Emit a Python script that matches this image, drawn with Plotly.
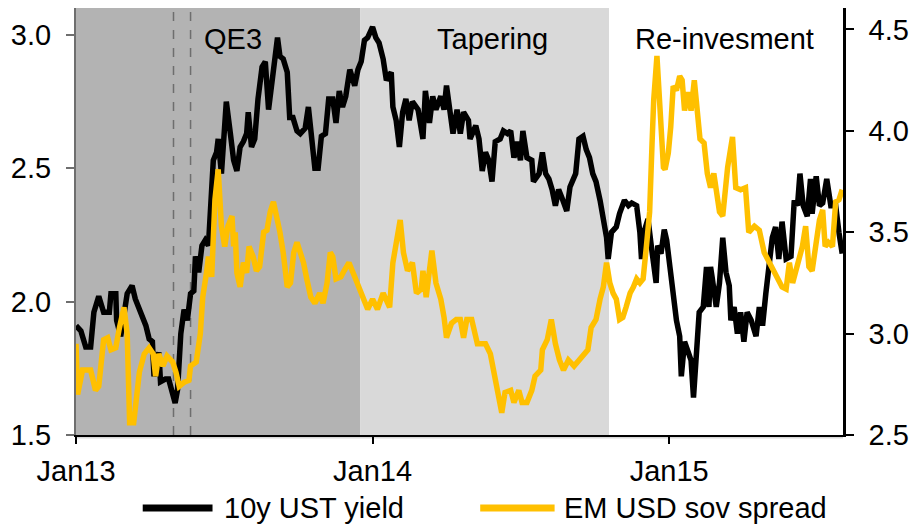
import pandas as pd
import plotly.graph_objects as go

# ---------------- data ----------------
base_date = pd.Timestamp("2013-01-01")

# 10y UST yield (left axis, %), observation day = days since 2013-01-01
ust_days = [0, 6, 12, 18, 22, 28, 34, 41, 43, 49, 50, 55, 63, 69, 73, 80, 86, 90, 94, 96,
            102, 104, 110, 114, 119, 122, 125, 129, 133, 137, 141, 145, 147, 151, 155, 159, 163, 169, 173, 175,
            179, 185, 190, 194, 198, 202, 206, 210, 212, 216, 220, 224, 229, 233, 237, 241, 245, 248, 251, 255,
            260, 263, 267, 272, 276, 282, 286, 290, 294, 298, 302, 307, 311, 316, 320, 324, 328, 332, 337, 343,
            347, 351, 355, 359, 365, 369, 373, 378, 382, 388, 390, 394, 398, 402, 406, 410, 414, 421, 427, 430,
            435, 439, 443, 449, 453, 456, 460, 464, 469, 473, 477, 483, 485, 492, 496, 500, 504, 508, 512, 516,
            522, 526, 531, 535, 539, 543, 547, 550, 555, 561, 563, 570, 574, 578, 582, 586, 590, 594, 598, 604,
            608, 615, 619, 624, 628, 632, 636, 640, 645, 649, 653, 655, 659, 665, 669, 675, 680, 684, 690, 694,
            696, 700, 704, 708, 714, 716, 720, 724, 727, 731, 735, 739, 743, 745, 749, 753, 757, 760, 764, 767,
            772, 776, 779, 781, 783, 788, 792, 796, 800, 804, 806, 810, 814, 818, 822, 826, 831, 837, 841, 845,
            849, 853, 857, 861, 865, 869, 874, 880, 884, 888, 891, 895, 900, 904, 906, 911, 915, 919, 924, 929,
            935, 939, 943]
ust_yield = [1.91, 1.89, 1.83, 1.83, 1.96, 2.02, 1.96, 1.96, 2.03, 2.03, 1.93, 1.87, 2.03, 2.06, 2.01, 1.96, 1.91, 1.86, 1.85, 1.72,
             1.81, 1.70, 1.71, 1.71, 1.66, 1.62, 1.67, 1.88, 1.97, 1.93, 2.03, 2.04, 2.17, 2.11, 2.21, 2.23, 2.21, 2.53, 2.56, 2.61,
             2.48, 2.75, 2.63, 2.53, 2.49, 2.58, 2.60, 2.63, 2.71, 2.58, 2.61, 2.76, 2.88, 2.90, 2.72, 2.81, 2.92, 2.99, 2.92, 2.91,
             2.86, 2.69, 2.69, 2.64, 2.63, 2.65, 2.73, 2.60, 2.50, 2.50, 2.62, 2.63, 2.76, 2.76, 2.67, 2.79, 2.73, 2.77, 2.87, 2.81,
             2.87, 2.90, 2.98, 2.99, 3.03, 2.99, 2.97, 2.91, 2.83, 2.86, 2.73, 2.68, 2.58, 2.71, 2.76, 2.68, 2.75, 2.72, 2.61, 2.79,
             2.67, 2.77, 2.72, 2.77, 2.72, 2.81, 2.72, 2.63, 2.72, 2.63, 2.71, 2.68, 2.61, 2.66, 2.61, 2.49, 2.56, 2.53, 2.45, 2.60,
             2.61, 2.64, 2.63, 2.64, 2.54, 2.60, 2.53, 2.64, 2.54, 2.53, 2.45, 2.48, 2.56, 2.48, 2.46, 2.42, 2.36, 2.42, 2.39, 2.34,
             2.43, 2.48, 2.61, 2.62, 2.57, 2.54, 2.48, 2.45, 2.38, 2.31, 2.24, 2.16, 2.26, 2.28, 2.33, 2.38, 2.36, 2.37, 2.36, 2.26,
             2.16, 2.27, 2.31, 2.21, 2.07, 2.21, 2.18, 2.27, 2.23, 2.13, 2.01, 1.93, 1.87, 1.72, 1.85, 1.81, 1.78, 1.64, 1.82, 1.96,
             1.98, 2.13, 1.98, 2.13, 2.09, 1.98, 2.07, 2.24, 2.11, 2.06, 1.93, 1.98, 1.88, 1.96, 1.85, 1.96, 1.93, 1.87, 1.98, 1.91,
             2.03, 2.13, 2.24, 2.28, 2.16, 2.30, 2.16, 2.17, 2.38, 2.36, 2.48, 2.36, 2.32, 2.46, 2.33, 2.47, 2.36, 2.37, 2.46, 2.36,
             2.36, 2.26, 2.18]

# EM USD sovereign spread (right axis, %)
em_days = [0, 2, 8, 18, 24, 28, 34, 39, 43, 49, 53, 59, 63, 66, 71, 78, 84, 90, 95, 98,
           102, 107, 112, 119, 123, 127, 133, 139, 141, 148, 153, 156, 161, 163, 167, 171, 175, 179, 183, 187,
           192, 194, 196, 198, 202, 206, 210, 213, 218, 222, 226, 231, 235, 239, 243, 247, 251, 255, 260, 264,
           268, 272, 276, 280, 284, 289, 294, 300, 304, 309, 313, 316, 320, 326, 330, 336, 343, 349, 353, 359,
           365, 371, 378, 386, 390, 394, 399, 403, 408, 414, 419, 425, 427, 431, 436, 438, 443, 449, 453, 456,
           462, 468, 473, 477, 481, 487, 494, 504, 510, 514, 520, 524, 528, 535, 539, 545, 549, 555, 561, 565,
           572, 574, 580, 585, 590, 595, 600, 606, 613, 619, 624, 630, 634, 640, 645, 649, 653, 657, 661, 665,
           669, 673, 677, 682, 686, 690, 694, 698, 702, 706, 709, 711, 715, 719, 723, 725, 729, 732, 735, 739,
           743, 746, 749, 753, 757, 761, 764, 768, 773, 777, 781, 785, 792, 796, 802, 808, 812, 818, 824, 828,
           835, 841, 847, 853, 857, 863, 869, 874, 878, 882, 888, 894, 898, 902, 906, 911, 915, 919, 922, 926,
           931, 935, 939, 943]
em_spread = [2.95, 2.70, 2.82, 2.82, 2.72, 2.74, 2.97, 2.98, 2.92, 2.93, 3.02, 3.13, 3.00, 2.56, 2.56, 2.81, 2.90, 2.93, 2.90, 2.79,
             2.90, 2.84, 2.89, 2.86, 2.81, 2.74, 2.76, 2.77, 2.84, 2.86, 3.00, 3.18, 3.31, 3.38, 3.28, 3.66, 3.81, 3.53, 3.43, 3.53,
             3.58, 3.43, 3.50, 3.30, 3.23, 3.35, 3.30, 3.43, 3.38, 3.31, 3.33, 3.50, 3.51, 3.60, 3.65, 3.58, 3.50, 3.40, 3.23, 3.25,
             3.40, 3.45, 3.40, 3.35, 3.27, 3.18, 3.15, 3.20, 3.15, 3.25, 3.40, 3.38, 3.27, 3.28, 3.31, 3.35, 3.28, 3.22, 3.17, 3.12,
             3.17, 3.12, 3.20, 3.13, 3.35, 3.46, 3.56, 3.40, 3.31, 3.35, 3.20, 3.22, 3.31, 3.18, 3.33, 3.41, 3.25, 3.17, 3.08, 2.98,
             3.05, 3.07, 3.07, 2.98, 3.07, 3.07, 2.95, 2.95, 2.90, 2.82, 2.72, 2.61, 2.71, 2.72, 2.66, 2.72, 2.66, 2.66, 2.72, 2.79,
             2.82, 2.92, 2.97, 3.07, 2.95, 2.87, 2.82, 2.87, 2.84, 2.87, 2.90, 2.92, 3.03, 3.07, 3.17, 3.23, 3.35, 3.25, 3.20, 3.17,
             3.07, 3.08, 3.13, 3.20, 3.23, 3.27, 3.25, 3.27, 3.43, 3.60, 3.94, 4.15, 4.37, 4.07, 3.82, 3.81, 3.89, 4.02, 4.22, 4.20,
             4.27, 4.25, 4.10, 4.19, 4.10, 4.25, 4.15, 3.96, 3.94, 3.79, 3.72, 3.79, 3.60, 3.58, 3.82, 3.97, 3.72, 3.71, 3.72, 3.50,
             3.53, 3.51, 3.40, 3.35, 3.33, 3.28, 3.23, 3.22, 3.35, 3.25, 3.35, 3.43, 3.53, 3.33, 3.31, 3.46, 3.56, 3.61, 3.43, 3.45,
             3.43, 3.65, 3.66, 3.71]

series_names = ["10y UST yield", "EM USD sov spread"]
x_tick_dates = ["2013-01-01", "2014-01-01", "2015-01-01"]
x_tick_labels = ["Jan13", "Jan14", "Jan15"]
left_ticks = [1.5, 2.0, 2.5, 3.0]
right_ticks = [2.5, 3.0, 3.5, 4.0, 4.5]

# regime periods
qe3_end = "2013-12-17"
taper_end = "2014-10-19"
event_dates = ["2013-05-01", "2013-05-22"]
period_labels = ["QE3", "Tapering", "Re-invesment"]

# ---------------- figure ----------------
ust_dates = base_date + pd.to_timedelta(ust_days, unit="D")
em_dates = base_date + pd.to_timedelta(em_days, unit="D")

FONT = "Liberation Sans, Arial, sans-serif"
FS = 29
BLACK = "#000000"
GOLD = "#FFC000"

fig = go.Figure()
fig.add_trace(go.Scatter(x=ust_dates, y=ust_yield, name=series_names[0], mode="lines",
                         line=dict(color=BLACK, width=5.5), yaxis="y"))
fig.add_trace(go.Scatter(x=em_dates, y=em_spread, name=series_names[1], mode="lines",
                         line=dict(color=GOLD, width=5.5), yaxis="y2"))

shapes = [
    dict(type="rect", xref="x", yref="paper", x0="2013-01-01", x1=qe3_end, y0=0, y1=1,
         fillcolor="#b3b3b3", line=dict(width=0), layer="below"),
    dict(type="rect", xref="x", yref="paper", x0=qe3_end, x1=taper_end, y0=0, y1=1,
         fillcolor="#d9d9d9", line=dict(width=0), layer="below"),
    dict(type="rect", xref="paper", yref="paper", x0=0, x1=1, y0=-0.008, y1=0,
         fillcolor="#d9d9d9", line=dict(width=0), layer="below"),
]
for d in event_dates:
    shapes.append(dict(type="line", xref="x", yref="paper", x0=d, x1=d, y0=0, y1=1,
                       line=dict(color="#6e6e6e", width=1.5, dash="dash"), layer="below"))

# custom legend (long line samples as in the reference)
leg_y = -0.171
shapes.append(dict(type="line", xref="paper", yref="paper", x0=0.087, x1=0.178, y0=leg_y, y1=leg_y,
                   line=dict(color=BLACK, width=7)))
shapes.append(dict(type="line", xref="paper", yref="paper", x0=0.527, x1=0.624, y0=leg_y, y1=leg_y,
                   line=dict(color=GOLD, width=7)))

annotations = [
    dict(text=period_labels[0], x=0.2045, y=0.928, xref="paper", yref="paper", showarrow=False,
         xanchor="center", yanchor="middle", font=dict(size=FS, color=BLACK, family=FONT)),
    dict(text=period_labels[1], x=0.543, y=0.928, xref="paper", yref="paper", showarrow=False,
         xanchor="center", yanchor="middle", font=dict(size=FS, color=BLACK, family=FONT)),
    dict(text=period_labels[2], x=0.846, y=0.928, xref="paper", yref="paper", showarrow=False,
         xanchor="center", yanchor="middle", font=dict(size=FS, color=BLACK, family=FONT)),
    dict(text=series_names[0], x=0.190, y=leg_y, xref="paper", yref="paper", showarrow=False,
         xanchor="left", yanchor="middle", font=dict(size=FS, color=BLACK, family=FONT)),
    dict(text=series_names[1], x=0.633, y=leg_y, xref="paper", yref="paper", showarrow=False,
         xanchor="left", yanchor="middle", font=dict(size=FS, color=BLACK, family=FONT)),
]

fig.update_layout(
    width=913, height=525, autosize=False,
    margin=dict(l=76, r=70, t=8, b=90),
    paper_bgcolor="white", plot_bgcolor="white",
    showlegend=False,
    font=dict(family=FONT, size=FS, color=BLACK),
    shapes=shapes, annotations=annotations,
    xaxis=dict(type="date", range=["2013-01-01", "2015-08-03"],
               tickvals=x_tick_dates, ticktext=x_tick_labels,
               ticks="outside", ticklen=7, tickwidth=1.5, tickcolor=BLACK,
               showline=True, linecolor=BLACK, linewidth=1.5,
               showgrid=False, zeroline=False, ticklabelstandoff=2, automargin=False,
               tickfont=dict(size=FS, color=BLACK, family=FONT)),
    yaxis=dict(range=[1.5, 3.101], tickvals=left_ticks, tickformat=".1f",
               ticks="outside", ticklen=8, tickwidth=1.5, tickcolor="#6e6e6e",
               showline=True, linecolor="#6e6e6e", linewidth=2,
               showgrid=False, zeroline=False, ticklabelstandoff=9, automargin=False,
               tickfont=dict(size=FS, color=BLACK, family=FONT)),
    yaxis2=dict(range=[2.5, 4.606], tickvals=right_ticks, tickformat=".1f",
                overlaying="y", side="right",
                ticks="outside", ticklen=8, tickwidth=2, tickcolor=BLACK,
                showline=True, linecolor=BLACK, linewidth=2.5,
                showgrid=False, zeroline=False, ticklabelstandoff=9, automargin=False,
                tickfont=dict(size=FS, color=BLACK, family=FONT)),
)

fig.write_html("out.html",
               config={"displayModeBar": False},
               post_script="document.body.style.margin='0';document.body.style.overflow='hidden';")
